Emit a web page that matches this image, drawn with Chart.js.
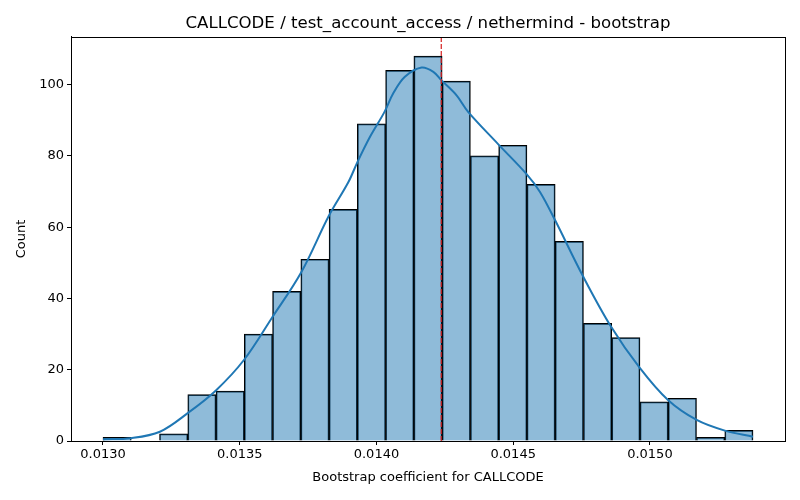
<!DOCTYPE html>
<html>
<head>
<meta charset="utf-8">
<script src="https://cdn.jsdelivr.net/npm/chart.js@4/dist/chart.umd.min.js"></script>
<style>
  html, body { margin: 0; padding: 0; background: #fff; }
  canvas { display: block; }
</style>
</head>
<body>
<canvas id="histChart" width="800" height="500"></canvas>
<script>
// histogram bins (1000 bootstrap samples)
const binStart = 0.01300;
const binWidth = 0.00010335;
const counts = [1, 0, 2, 13, 14, 30, 42, 51, 65, 89, 104, 108, 101, 80, 83, 72, 56, 33, 29, 11, 12, 1, 3];

// kde curve
const kdeX = [0.013000, 0.013102, 0.013208, 0.013311, 0.013413, 0.013516, 0.013618, 0.013724,
              0.013826, 0.013897, 0.013930, 0.013976, 0.014029, 0.014061, 0.014104, 0.014165,
              0.014208, 0.014238, 0.014293, 0.014336, 0.014444, 0.014549, 0.014598, 0.014653,
              0.014755, 0.014857, 0.014963, 0.015066, 0.015171, 0.015274, 0.015377];
const kdeY = [0.5, 0.8, 2.6, 7.9, 14.2, 22.8, 34.6, 47.2,
              63.2, 72.6, 78.2, 85.3, 92.3, 97.5, 102.2, 104.8,
              103.6, 101.2, 97.0, 92.3, 83.4, 74.9, 69.9, 62.0,
              46.3, 32.2, 20.5, 11.5, 5.9, 2.9, 1.2];

const meanValue = 0.014237;

const xTicks = [0.0130, 0.0135, 0.0140, 0.0145, 0.0150];
const yTicks = [0, 20, 40, 60, 80, 100];
const xMin = 0.012883, xMax = 0.015494;
const yMax = 113.4;

const barData = counts.map((c, i) => ({ x: binStart + (i + 0.5) * binWidth, y: c }));
const kdeData = kdeX.map((x, i) => ({ x: x, y: kdeY[i] }));

const frame = {
  id: 'frame',
  afterDraw(chart) {
    const { ctx, chartArea: a } = chart;
    ctx.save();
    ctx.strokeStyle = '#000';
    ctx.lineWidth = 1;
    ctx.strokeRect(Math.round(a.left) + 0.5, Math.round(a.top) + 0.5,
                   Math.round(a.right - a.left), Math.round(a.bottom - a.top));
    ctx.restore();
  }
};

const font = { family: 'DejaVu Sans', size: 13 };

new Chart(document.getElementById('histChart'), {
  data: {
    datasets: [
      {
        type: 'line',
        data: [{ x: meanValue, y: 0 }, { x: meanValue, y: yMax }],
        borderColor: '#d62020',
        borderWidth: 1.2,
        borderDash: [5, 2],
        pointRadius: 0,
        order: 1
      },
      {
        type: 'line',
        data: kdeData,
        borderColor: '#1f77b4',
        borderWidth: 2,
        pointRadius: 0,
        tension: 0.35,
        order: 2
      },
      {
        type: 'bar',
        data: barData,
        backgroundColor: 'rgba(31,119,180,0.5)',
        borderColor: '#000',
        borderWidth: 1,
        barPercentage: 1,
        categoryPercentage: 1,
        grouped: false,
        order: 3
      }
    ]
  },
  options: {
    responsive: false,
    animation: false,
    devicePixelRatio: 1,
    layout: { padding: { left: 0, right: 15, top: 0, bottom: 0 } },
    plugins: {
      legend: { display: false },
      tooltip: { enabled: false },
      title: {
        display: true,
        fullSize: false,
        text: 'CALLCODE / test_account_access / nethermind - bootstrap',
        color: '#000',
        font: { family: 'DejaVu Sans', size: 16.6, weight: 'normal' },
        padding: { top: 14, bottom: 3 }
      }
    },
    scales: {
      x: {
        type: 'linear',
        offset: false,
        min: xMin,
        max: xMax,
        afterBuildTicks: s => { s.ticks = xTicks.map(v => ({ value: v })); },
        afterFit: s => { s.height = 59; },
        grid: { display: true, offset: false, drawOnChartArea: false, drawTicks: true, tickLength: 4, color: '#000' },
        border: { display: true, color: '#000' },
        ticks: { color: '#000', font: font, padding: 2, maxRotation: 0,
                 callback: v => v.toFixed(4) },
        title: { display: true, text: 'Bootstrap coefficient for CALLCODE', color: '#000',
                 font: { family: 'DejaVu Sans', size: 13 }, padding: { top: 0, bottom: 15 } }
      },
      y: {
        type: 'linear',
        min: 0,
        max: yMax,
        afterBuildTicks: s => { s.ticks = yTicks.map(v => ({ value: v })); },
        afterFit: s => { s.width = 71; },
        grid: { display: true, drawOnChartArea: false, drawTicks: true, tickLength: 4, color: '#000' },
        border: { display: true, color: '#000' },
        ticks: { color: '#000', font: font, padding: 3, callback: v => String(v) },
        title: { display: true, text: 'Count', color: '#000',
                 font: { family: 'DejaVu Sans', size: 13 }, padding: { top: 14, bottom: 0 } }
      }
    }
  },
  plugins: [frame]
});
</script>
</body>
</html>
